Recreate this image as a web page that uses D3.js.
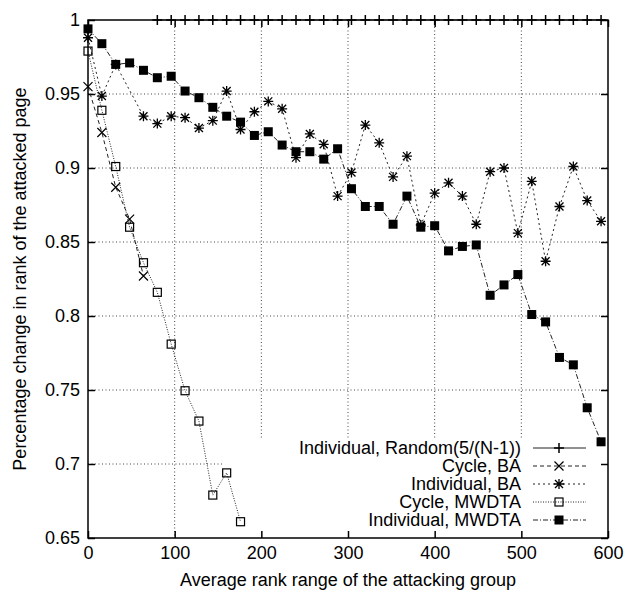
<!DOCTYPE html>
<html>
<head>
<meta charset="utf-8">
<script src="https://cdn.jsdelivr.net/npm/d3@7"></script>
<style>
  body { margin: 0; background: #fff; }
  svg text { font-family: "Liberation Sans", Arial, Helvetica, sans-serif; }
</style>
</head>
<body>
<svg id="chart" width="627" height="592"></svg>
<script>
// values
const xTicks = [0, 100, 200, 300, 400, 500, 600];
const yTicks = [0.65, 0.7, 0.75, 0.8, 0.85, 0.9, 0.95, 1];

const randomX = [80, 96, 112, 128, 144, 160, 176, 192, 208, 224, 240, 256, 272, 288, 304, 320, 336,
                 352, 368, 384, 400, 416, 432, 448, 464, 480, 496, 512, 528, 544, 560, 576, 592];
const randomY = [1, 1, 1, 1, 1, 1, 1, 1, 1, 1, 1, 1, 1, 1, 1, 1, 1,
                 1, 1, 1, 1, 1, 1, 1, 1, 1, 1, 1, 1, 1, 1, 1, 1];

const cycleBaX = [0, 16, 32, 48, 64];
const cycleBaY = [0.955, 0.924, 0.887, 0.8655, 0.827];

const indBaX = [0, 16, 32, 64, 80, 96, 112, 128, 144, 160, 176, 192, 208, 224, 240, 256, 272, 288,
                304, 320, 336, 352, 368, 384, 400, 416, 432, 448, 464, 480, 496, 512, 528, 544, 560, 576, 592];
const indBaY = [0.988, 0.9486, 0.970, 0.935, 0.930, 0.935, 0.934, 0.927, 0.932, 0.952, 0.926, 0.938,
                0.945, 0.940, 0.907, 0.923, 0.916, 0.881, 0.897, 0.929, 0.917, 0.894, 0.908, 0.8615,
                0.883, 0.890, 0.881, 0.862, 0.8975, 0.900, 0.856, 0.891, 0.837, 0.874, 0.901, 0.878, 0.864];

const cycleMwX = [0, 16, 32, 48, 64, 80, 96, 112, 128, 144, 160, 176];
const cycleMwY = [0.979, 0.939, 0.901, 0.860, 0.836, 0.816, 0.781, 0.7495, 0.729, 0.679, 0.694, 0.661];

const indMwX = [0, 16, 32, 48, 64, 80, 96, 112, 128, 144, 160, 176, 192, 208, 224, 240, 256, 272, 288,
                304, 320, 336, 352, 368, 384, 400, 416, 432, 448, 464, 480, 496, 512, 528, 544, 560, 576, 592];
const indMwY = [0.994, 0.984, 0.970, 0.971, 0.966, 0.961, 0.962, 0.952, 0.9475, 0.941, 0.935, 0.931,
                0.922, 0.9245, 0.9155, 0.911, 0.911, 0.906, 0.913, 0.886, 0.874, 0.874, 0.862, 0.881,
                0.860, 0.861, 0.844, 0.847, 0.848, 0.814, 0.821, 0.828, 0.801, 0.796, 0.772, 0.767, 0.738, 0.715];

const svg = d3.select('#chart');
const plotL = 88, plotR = 608, plotT = 20, plotB = 538;

const x = d3.scaleLinear().domain([0, 600]).range([plotL, plotR]);
const y = d3.scaleLinear().domain([0.65, 1]).range([plotB, plotT]);

// grid
const grid = svg.append('g')
    .attr('stroke', '#444')
    .attr('stroke-width', 1)
    .attr('stroke-dasharray', '1,2.5');

xTicks.slice(1, -1).forEach(t => {
    grid.append('line')
        .attr('x1', x(t)).attr('x2', x(t))
        .attr('y1', plotT).attr('y2', plotB);
});
yTicks.slice(1, -1).forEach(t => {
    grid.append('line')
        .attr('x1', plotL).attr('x2', plotR)
        .attr('y1', y(t)).attr('y2', y(t));
});

// key background hides the grid underneath
const key = { x0: 223, y0: 438 };
svg.append('rect')
    .attr('x', key.x0).attr('y', key.y0)
    .attr('width', plotR - key.x0 - 1).attr('height', plotB - key.y0 - 1)
    .attr('fill', '#fff');

// axes
const yFmt = d => String(+d.toFixed(2));

svg.append('g')
    .attr('transform', `translate(0,${plotB})`)
    .call(d3.axisBottom(x).tickValues(xTicks).tickSizeInner(-7).tickSizeOuter(0).tickPadding(8));
svg.append('g')
    .attr('transform', `translate(0,${plotT})`)
    .call(d3.axisTop(x).tickValues(xTicks).tickSizeInner(-7).tickSizeOuter(0).tickFormat(''));
svg.append('g')
    .attr('transform', `translate(${plotL},0)`)
    .call(d3.axisLeft(y).tickValues(yTicks).tickSizeInner(-7).tickSizeOuter(0).tickPadding(8).tickFormat(yFmt));
svg.append('g')
    .attr('transform', `translate(${plotR},0)`)
    .call(d3.axisRight(y).tickValues(yTicks).tickSizeInner(-7).tickSizeOuter(0).tickFormat(''));

svg.selectAll('.domain').remove();
svg.selectAll('.tick line').attr('stroke', '#000').attr('stroke-width', 1.5);
svg.selectAll('.tick text')
    .attr('font-size', 18)
    .attr('fill', '#000')
    .attr('font-family', '"Liberation Sans", Arial, sans-serif');

svg.append('rect')
    .attr('x', plotL).attr('y', plotT)
    .attr('width', plotR - plotL).attr('height', plotB - plotT)
    .attr('fill', 'none')
    .attr('stroke', '#000')
    .attr('stroke-width', 1.5);

// axis titles
svg.append('text')
    .attr('x', (plotL + plotR) / 2).attr('y', 586)
    .attr('text-anchor', 'middle')
    .attr('font-size', 18)
    .text('Average rank range of the attacking group');

svg.append('text')
    .attr('transform', `translate(26,${(plotT + plotB) / 2}) rotate(-90)`)
    .attr('text-anchor', 'middle')
    .attr('font-size', 18)
    .text('Percentage change in rank of the attacked page');

// markers
function marker (g, kind, cx, cy) {
    if (kind == 'plus') {
        g.append('path')
            .attr('d', `M${cx - 5},${cy} h10 M${cx},${cy - 5} v10`)
            .attr('stroke', '#000').attr('stroke-width', 1.5);
    } else if (kind == 'cross') {
        g.append('path')
            .attr('d', `M${cx - 4.5},${cy - 4.5} l9,9 M${cx - 4.5},${cy + 4.5} l9,-9`)
            .attr('stroke', '#000').attr('stroke-width', 1.2);
    } else if (kind == 'star') {
        g.append('path')
            .attr('d', `M${cx - 5},${cy} h10 M${cx},${cy - 5} v10 M${cx - 4},${cy - 4} l8,8 M${cx - 4},${cy + 4} l8,-8`)
            .attr('stroke', '#000').attr('stroke-width', 1.3);
    } else if (kind == 'box') {
        g.append('rect')
            .attr('x', cx - 4).attr('y', cy - 4)
            .attr('width', 8).attr('height', 8)
            .attr('fill', 'none')
            .attr('stroke', '#000').attr('stroke-width', 1.2);
    } else if (kind == 'fbox') {
        g.append('rect')
            .attr('x', cx - 4.5).attr('y', cy - 4.5)
            .attr('width', 9).attr('height', 9)
            .attr('fill', '#000');
    }
}

const seriesList = [
    { name: 'Individual, Random(5/(N-1))', xs: randomX, ys: randomY, kind: 'plus', dash: null },
    { name: 'Cycle, BA', xs: cycleBaX, ys: cycleBaY, kind: 'cross', dash: '4,3' },
    { name: 'Individual, BA', xs: indBaX, ys: indBaY, kind: 'star', dash: '2,3' },
    { name: 'Cycle, MWDTA', xs: cycleMwX, ys: cycleMwY, kind: 'box', dash: '1,1.5' },
    { name: 'Individual, MWDTA', xs: indMwX, ys: indMwY, kind: 'fbox', dash: '5,2,1,2' }
];

const line = d3.line().x(d => x(d[0])).y(d => y(d[1]));

seriesList.forEach((s, k) => {
    const pts = s.xs.map((v, i) => [v, s.ys[i]]);
    const g = svg.append('g');
    g.append('path')
        .attr('d', line(pts))
        .attr('fill', 'none')
        .attr('stroke', '#222')
        .attr('stroke-width', 1)
        .attr('stroke-dasharray', s.dash);
    pts.forEach(p => marker(g, s.kind, x(p[0]), y(p[1])));

    // key entry
    const ky = 448 + k * 18;
    svg.append('text')
        .attr('x', 521).attr('y', ky)
        .attr('dy', '0.35em')
        .attr('text-anchor', 'end')
        .attr('font-size', 18)
        .text(s.name);
    const kg = svg.append('g');
    kg.append('line')
        .attr('x1', 533).attr('x2', 586)
        .attr('y1', ky).attr('y2', ky)
        .attr('stroke', '#222')
        .attr('stroke-width', 1)
        .attr('stroke-dasharray', s.dash);
    marker(kg, s.kind, 559, ky);
});
</script>
</body>
</html>
